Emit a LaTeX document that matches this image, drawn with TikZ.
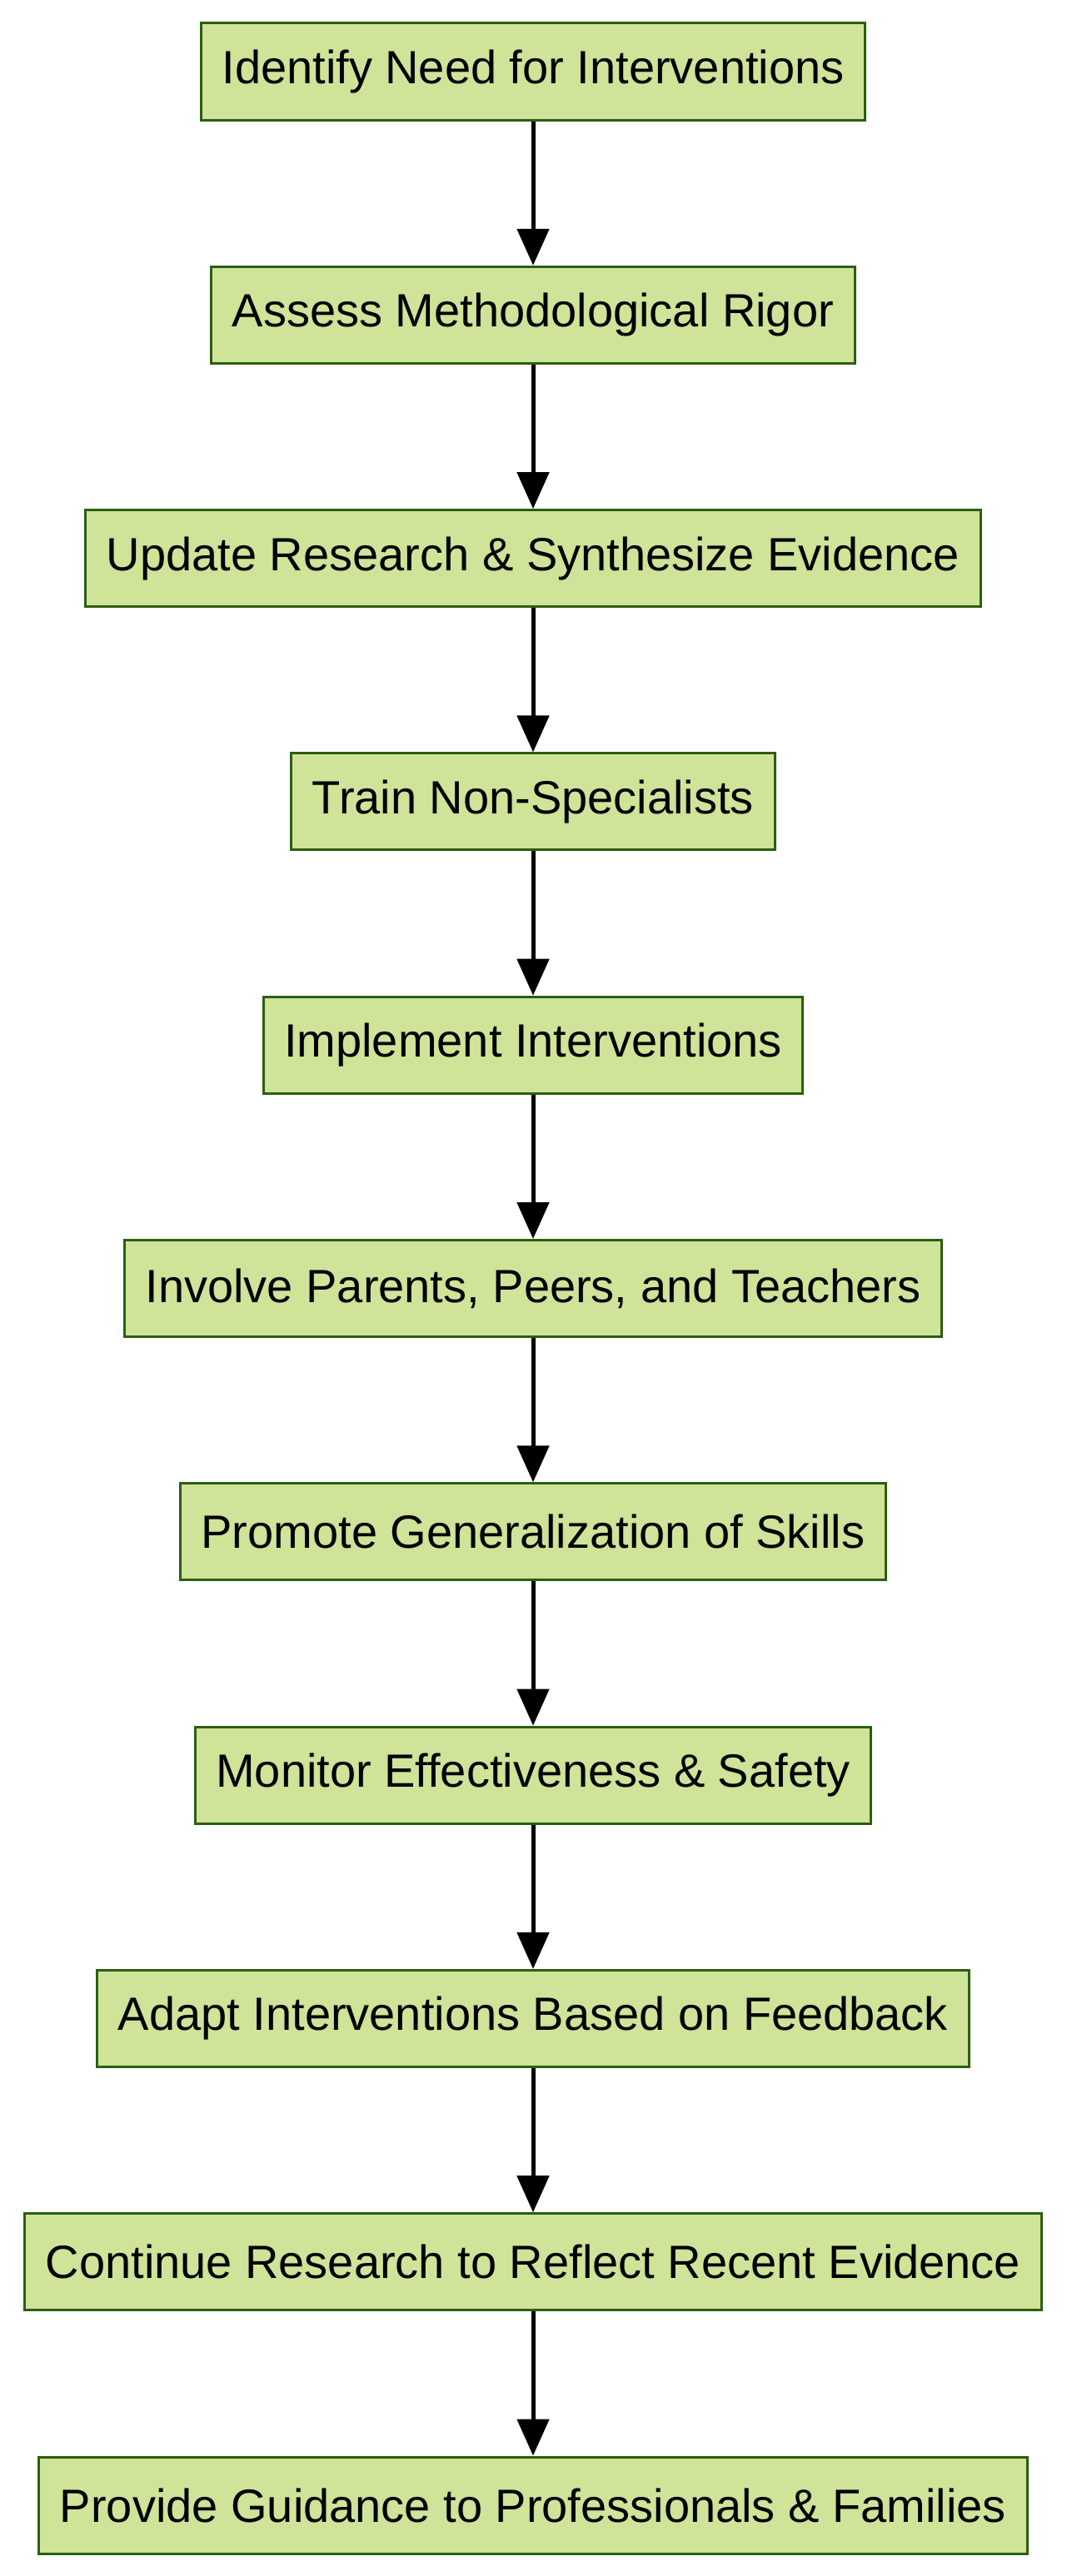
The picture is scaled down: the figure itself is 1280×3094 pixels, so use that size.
\documentclass[tikz,border=0pt]{standalone}
\usepackage{fontspec}
\setmainfont{Liberation Sans}
\usetikzlibrary{arrows.meta}
\definecolor{boxfill}{HTML}{CFE399}
\definecolor{boxline}{HTML}{2B5E12}
\begin{document}
\begin{tikzpicture}[x=1pt,y=-1pt,
  stepbox/.style={draw=boxline,fill=boxfill,line width=3pt,minimum height=116pt,inner xsep=25pt,font=\fontsize{56}{60}\selectfont,anchor=center},
  conn/.style={line width=5pt,-{Triangle[length=44pt,width=38pt]}}]
\useasboundingbox (0,0) rectangle (1280,3094);
\foreach \t [count=\i from 0] in {Identify Need for Interventions,Assess Methodological Rigor,Update Research \& Synthesize Evidence,Train Non-Specialists,Implement Interventions,{Involve Parents, Peers, and Teachers},Promote Generalization of Skills,Monitor Effectiveness \& Safety,Adapt Interventions Based on Feedback,Continue Research to Reflect Recent Evidence,Provide Guidance to Professionals \& Families}{
  \node[stepbox] (n\i) at (640,{86+292.3*\i}) {\t};
}
\foreach \i [evaluate=\i as \j using int(\i+1)] in {0,...,9}{
  \draw[conn] (n\i.south) -- (n\j.north);
}
\end{tikzpicture}
\end{document}
